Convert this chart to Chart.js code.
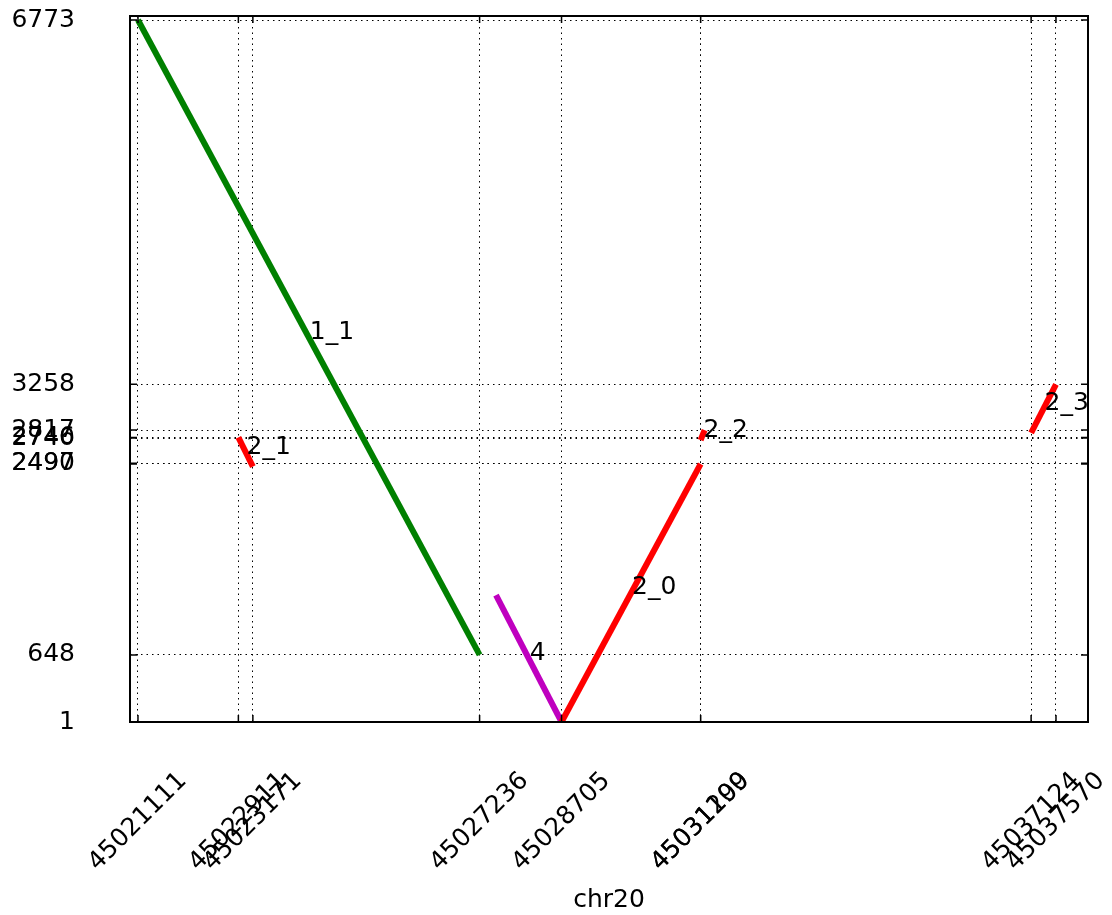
<!DOCTYPE html>
<html>
<head>
<meta charset="utf-8">
<script src="https://cdn.jsdelivr.net/npm/chart.js@4/dist/chart.umd.min.js"></script>
<style>
  body { margin: 0; background: #fff; }
  canvas { display: block; }
</style>
</head>
<body>
<canvas id="myChart" width="1112" height="915"></canvas>
<script>
// tick positions on the axes
const xTicks = [45021111, 45022911, 45023171, 45027236, 45028705, 45031199, 45031200, 45037124, 45037570];
const yTicks = [1, 648, 2490, 2497, 2740, 2746, 2817, 3258, 6773];

// one segment per item
const segNames = ['1_1', '2_1', '2_2', '2_0', '2_3', '4'];
const segX = [
    [45021111, 45027236],
    [45022911, 45023171],
    [45031199, 45031270],
    [45028705, 45031199],
    [45037124, 45037570],
    [45027530, 45028705]
];
const segY = [
    [6773, 648],
    [2746, 2465],
    [2720, 2817],
    [1, 2490],
    [2790, 3258],
    [1226, 1]
];
const segColors = ['#008000', '#ff0000', '#ff0000', '#ff0000', '#ff0000', '#bf00bf'];

const FONT = '"DejaVu Sans", sans-serif';

const datasets = segNames.map((name, i) => ({
    label: name,
    data: [{x: segX[i][0], y: segY[i][0]}, {x: segX[i][1], y: segY[i][1]}],
    showLine: true,
    borderColor: segColors[i],
    backgroundColor: segColors[i],
    borderWidth: 6,
    pointRadius: 0,
    borderCapStyle: 'butt'
}));

const extras = {
    id: 'extras',
    afterDraw(chart) {
        const ctx = chart.ctx;
        const a = chart.chartArea;
        const xs = chart.scales.x;
        const ys = chart.scales.y;
        ctx.save();
        // frame
        ctx.strokeStyle = '#000';
        ctx.lineWidth = 2;
        ctx.strokeRect(a.left, a.top, a.right - a.left, a.bottom - a.top);
        // small inward tick marks
        ctx.lineWidth = 1.5;
        ctx.beginPath();
        xTicks.forEach(v => {
            const px = xs.getPixelForValue(v);
            ctx.moveTo(px, a.bottom); ctx.lineTo(px, a.bottom - 7);
            ctx.moveTo(px, a.top); ctx.lineTo(px, a.top + 7);
        });
        yTicks.forEach(v => {
            const py = ys.getPixelForValue(v);
            ctx.moveTo(a.left, py); ctx.lineTo(a.left + 7, py);
            ctx.moveTo(a.right, py); ctx.lineTo(a.right - 7, py);
        });
        ctx.stroke();
        // rotated x tick labels, centred on the tick
        ctx.fillStyle = '#000';
        ctx.font = '25px ' + FONT;
        ctx.textAlign = 'center';
        ctx.textBaseline = 'middle';
        xTicks.forEach(v => {
            const px = xs.getPixelForValue(v);
            ctx.save();
            ctx.translate(px, 822);
            ctx.rotate(-Math.PI / 4);
            ctx.fillText(String(v), 0, 0);
            ctx.restore();
        });
        // axis title
        ctx.fillText('chr20', (a.left + a.right) / 2, 900);
        // segment names at the midpoints
        ctx.textAlign = 'left';
        segNames.forEach((name, i) => {
            const mx = xs.getPixelForValue((segX[i][0] + segX[i][1]) / 2);
            const my = ys.getPixelForValue((segY[i][0] + segY[i][1]) / 2);
            ctx.fillText(name, mx + 1, my - 5);
        });
        ctx.restore();
    }
};

const ctx = document.getElementById('myChart').getContext('2d');
const myChart = new Chart(ctx, {
    type: 'scatter',
    data: { datasets: datasets },
    options: {
        responsive: false,
        animation: false,
        layout: { padding: { top: 16, right: 24, bottom: 193, left: 0 } },
        plugins: { legend: { display: false }, tooltip: { enabled: false } },
        scales: {
            x: {
                type: 'linear',
                min: 45020968,
                max: 45038144,
                afterBuildTicks: s => { s.ticks = xTicks.map(v => ({value: v})); },
                afterFit: s => { s.height = 0; s.paddingLeft = 0; s.paddingRight = 0; },
                ticks: { display: false },
                grid: { color: '#000', lineWidth: 1, drawTicks: false },
                border: { display: false, dash: [1.5, 4] }
            },
            y: {
                type: 'linear',
                min: 1,
                max: 6811.6,
                afterBuildTicks: s => { s.ticks = yTicks.map(v => ({value: v})); },
                afterFit: s => { s.width = 130; s.paddingTop = 0; s.paddingBottom = 0; },
                ticks: {
                    color: '#000',
                    padding: 55,
                    font: { family: FONT, size: 25 },
                    callback: v => String(v)
                },
                grid: { color: '#000', lineWidth: 1, drawTicks: false },
                border: { display: false, dash: [1.5, 4] }
            }
        }
    },
    plugins: [extras]
});
</script>
</body>
</html>
